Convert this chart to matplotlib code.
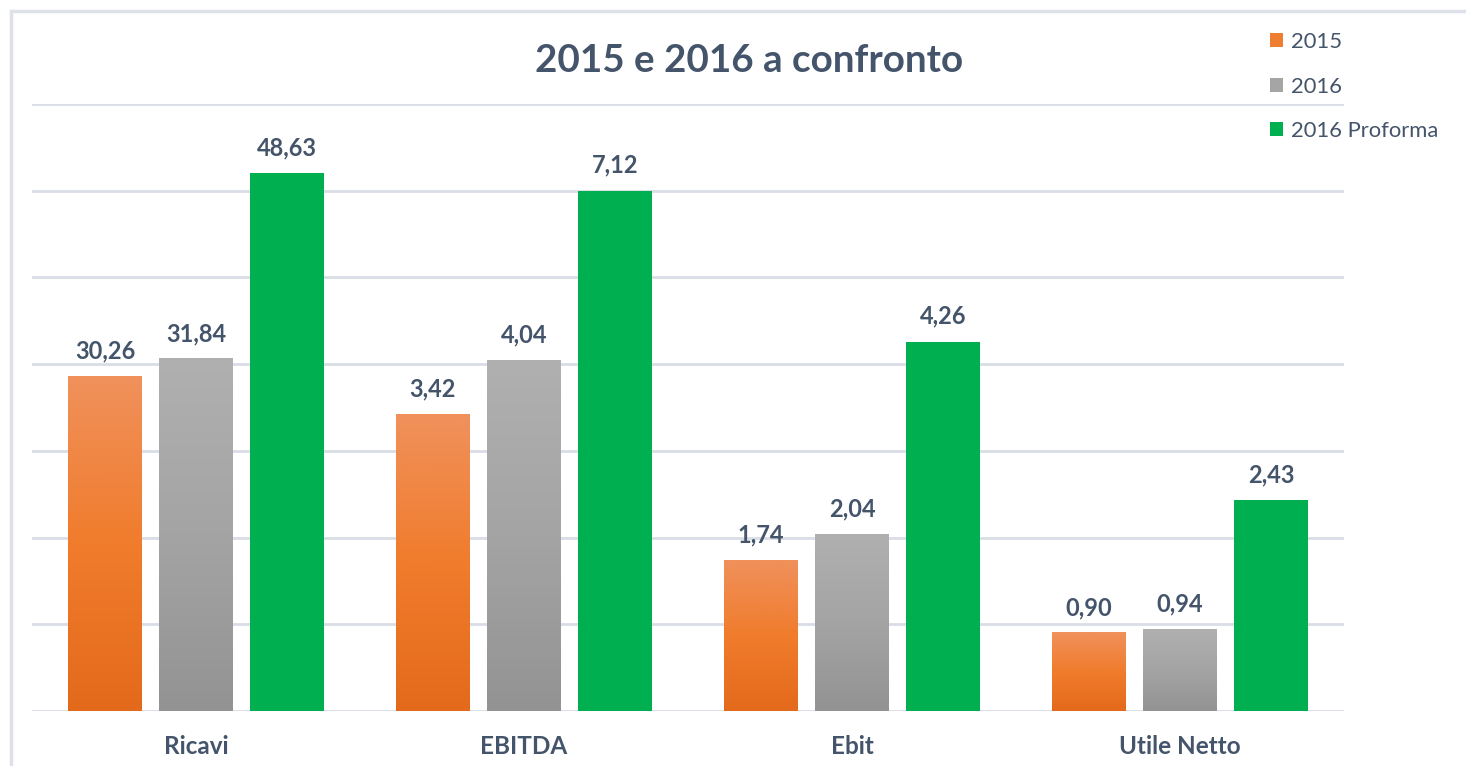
import numpy as np
import matplotlib
matplotlib.use('Agg')
import matplotlib.pyplot as plt
from matplotlib.patches import Rectangle, Patch
from matplotlib.colors import LinearSegmentedColormap

categorie = ['Ricavi', 'EBITDA', 'Ebit', 'Utile Netto']
serie = ['2015', '2016', '2016 Proforma']

# altezze delle barre come appaiono sull'asse (Ricavi su scala diversa)
altezze_2015 = [3.86, 3.42, 1.74, 0.90]
altezze_2016 = [4.06, 4.04, 2.04, 0.94]
altezze_proforma = [6.20, 6.00, 4.26, 2.43]

# etichette mostrate sopra le barre
etichette_2015 = ['30,26', '3,42', '1,74', '0,90']
etichette_2016 = ['31,84', '4,04', '2,04', '0,94']
etichette_proforma = ['48,63', '7,12', '4,26', '2,43']

TESTO = '#44546A'
GRIGLIA = '#D9DDE6'
plt.rcParams['font.family'] = ['Lato', 'DejaVu Sans']

fig = plt.figure(figsize=(14.66, 7.66), dpi=100)
fig.patch.set_facecolor('white')
# cornice esterna del grafico
fig.patches.append(Rectangle((11 / 1466, -0.1), 1.2, 1 - 11 / 766 + 0.1,
                             transform=fig.transFigure, fill=False,
                             edgecolor='#DEE1E9', linewidth=2.5))

ax = fig.add_axes([32 / 1466, 1 - 711 / 766, 1312 / 1466, 607 / 766])

x = np.arange(len(categorie))
w = 0.2256
off = 0.2774

grad_arancio = LinearSegmentedColormap.from_list('ar', ['#E46A1B', '#F07C2C', '#F0915C'])
grad_grigio = LinearSegmentedColormap.from_list('gr', ['#939393', '#A4A4A4', '#B0B0B0'])

b1 = ax.bar(x - off, altezze_2015, w, color='none', zorder=3)
b2 = ax.bar(x, altezze_2016, w, color='none', zorder=3)
b3 = ax.bar(x + off, altezze_proforma, w, color='#00B050', zorder=3)

grad = np.linspace(0, 1, 256).reshape(-1, 1)
for bars, cmap in [(b1, grad_arancio), (b2, grad_grigio)]:
    for b in bars:
        x0, y0 = b.get_x(), b.get_y()
        ax.imshow(grad, extent=(x0, x0 + b.get_width(), y0, y0 + b.get_height()),
                  origin='lower', cmap=cmap, aspect='auto', zorder=3)
ax.set_xlim(-0.5, 3.5)
ax.set_ylim(0, 7)

for bars, labs in [(b1, etichette_2015), (b2, etichette_2016), (b3, etichette_proforma)]:
    for b, t in zip(bars, labs):
        ax.annotate(t, (b.get_x() + b.get_width() / 2, b.get_height()),
                    xytext=(0, 10), textcoords='offset points', ha='center', va='bottom',
                    fontsize=17, fontweight='bold', color=TESTO, annotation_clip=False)

ax.set_yticks(np.arange(0, 8, 1))
ax.yaxis.grid(True, color=GRIGLIA, linewidth=2)
ax.set_axisbelow(True)
ax.tick_params(axis='y', left=False, labelleft=False)
ax.tick_params(axis='x', length=0, pad=17)
ax.set_xticks(x)
ax.set_xticklabels(categorie, fontsize=17.5, fontweight='bold', color=TESTO)
for s in ax.spines.values():
    s.set_visible(False)
ax.set_facecolor('none')

fig.text(749 / 1466, 1 - 61 / 766, '2015 e 2016 a confronto', ha='center', va='center',
         fontsize=27.8, fontweight='bold', color=TESTO)

maniglie = [Patch(facecolor='#F07E32'), Patch(facecolor='#A5A5A5'), Patch(facecolor='#00B050')]
leg = fig.legend(maniglie, serie, loc='upper left', bbox_to_anchor=(1270 / 1466, 1 - 32 / 766),
                 frameon=False, fontsize=15.8, labelspacing=1.12, handlelength=0.6,
                 handleheight=0.6, handletextpad=0.35, borderpad=0, borderaxespad=0)
for t in leg.get_texts():
    t.set_color(TESTO)

fig.savefig('out.png', dpi=100)
